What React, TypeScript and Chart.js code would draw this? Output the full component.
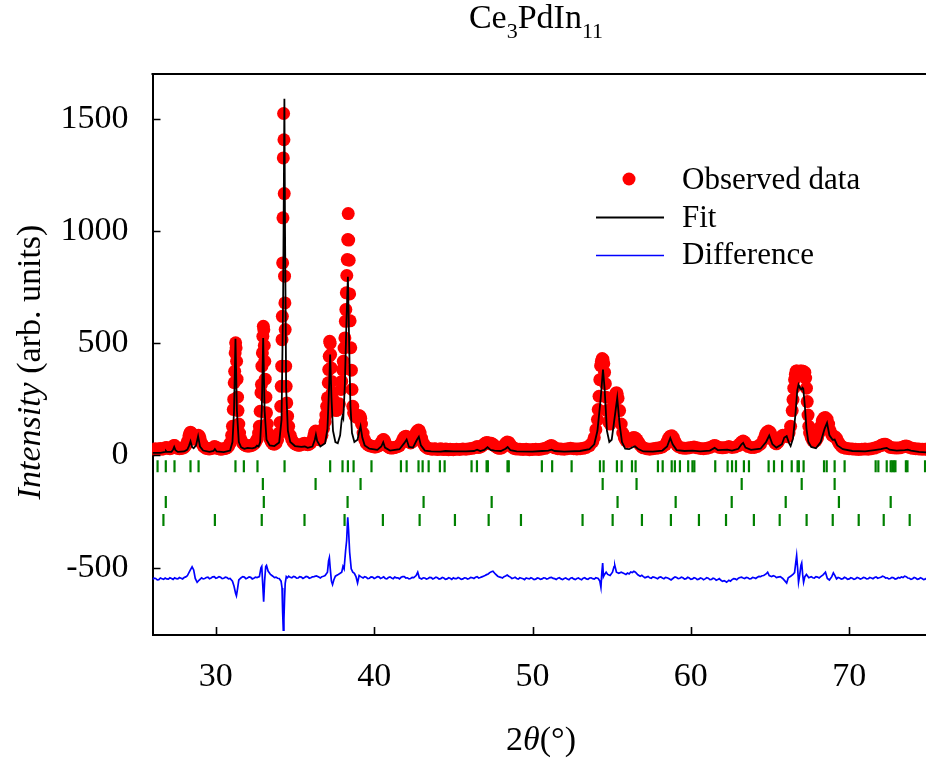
import React, { useEffect, useRef } from 'react';
import { Chart, registerables } from 'chart.js';

Chart.register(...registerables);

const SERIF = '"Liberation Serif", "Times New Roman", Times, serif';

const xTickValues = [30, 40, 50, 60, 70];
const yTickValues = [-500, 0, 500, 1000, 1500];

// Observed data: [2theta, intensity]
const observed: [number, number][] = [
  [26.0, 28], [26.1, 26], [26.2, 30], [26.3, 27], [26.4, 29], [26.5, 31], [26.6, 28], [26.7, 30], [26.8, 34], [26.9, 36],
  [27.0, 32], [27.1, 30], [27.2, 33], [27.3, 40], [27.35, 45], [27.4, 44], [27.5, 36], [27.6, 32], [27.7, 30], [27.8, 31],
  [27.9, 33], [28.0, 36], [28.1, 45], [28.2, 62], [28.3, 88], [28.35, 98], [28.4, 104], [28.45, 100], [28.5, 92], [28.6, 78],
  [28.7, 72], [28.8, 82], [28.85, 88], [28.9, 90], [28.95, 86], [29.0, 76], [29.1, 55], [29.2, 42], [29.3, 36], [29.4, 32],
  [29.5, 30], [29.6, 29], [29.7, 31], [29.8, 33], [29.9, 40], [30.0, 38], [30.1, 32], [30.2, 30], [30.3, 28], [30.4, 29],
  [30.5, 30], [30.6, 31], [30.7, 34], [30.8, 40], [30.9, 55], [31.0, 90], [31.05, 130], [31.1, 205], [31.13, 250], [31.16, 324],
  [31.19, 375], [31.22, 457], [31.25, 502], [31.28, 480], [31.31, 420], [31.34, 340], [31.37, 260], [31.4, 200], [31.45, 140], [31.5, 100],
  [31.6, 70], [31.7, 55], [31.8, 48], [31.9, 44], [32.0, 42], [32.1, 42], [32.2, 44], [32.3, 46], [32.4, 50], [32.5, 58],
  [32.6, 72], [32.7, 100], [32.75, 130], [32.8, 197], [32.85, 280], [32.88, 316], [32.91, 398], [32.94, 457], [32.97, 531], [33.0, 576],
  [33.03, 560], [33.06, 490], [33.09, 420], [33.12, 340], [33.16, 260], [33.2, 190], [33.25, 140], [33.3, 100], [33.4, 75], [33.5, 60],
  [33.6, 52], [33.7, 50], [33.8, 55], [33.9, 70], [34.0, 100], [34.05, 147], [34.1, 219], [34.13, 308], [34.16, 398], [34.18, 516],
  [34.2, 620], [34.22, 858], [34.24, 1059], [34.26, 1326], [34.28, 1524], [34.3, 1407], [34.32, 1167], [34.34, 799], [34.36, 680], [34.38, 561],
  [34.41, 398], [34.44, 308], [34.48, 234], [34.53, 175], [34.6, 130], [34.7, 90], [34.8, 70], [34.9, 58], [35.0, 52], [35.1, 48],
  [35.2, 46], [35.3, 46], [35.4, 48], [35.5, 52], [35.6, 54], [35.7, 50], [35.8, 48], [35.9, 50], [36.0, 56], [36.1, 68],
  [36.2, 90], [36.25, 104], [36.3, 109], [36.35, 100], [36.4, 84], [36.5, 70], [36.6, 72], [36.7, 90], [36.8, 120], [36.9, 150],
  [36.95, 180], [37.0, 219], [37.05, 257], [37.1, 324], [37.13, 383], [37.16, 442], [37.19, 509], [37.22, 500], [37.25, 450], [37.28, 390],
  [37.31, 330], [37.35, 280], [37.4, 250], [37.5, 220], [37.6, 200], [37.7, 205], [37.8, 230], [37.9, 294], [37.95, 330], [38.0, 383],
  [38.05, 420], [38.1, 479], [38.15, 524], [38.18, 598], [38.21, 650], [38.24, 725], [38.27, 802], [38.3, 873], [38.33, 962], [38.36, 1078],
  [38.39, 960], [38.42, 870], [38.45, 720], [38.48, 600], [38.52, 480], [38.56, 380], [38.6, 294], [38.65, 219], [38.7, 190], [38.8, 175],
  [38.9, 170], [38.95, 172], [39.0, 175], [39.05, 178], [39.1, 175], [39.15, 165], [39.2, 140], [39.3, 100], [39.4, 70], [39.5, 55],
  [39.6, 48], [39.7, 44], [39.8, 42], [39.9, 40], [40.0, 38], [40.1, 38], [40.2, 40], [40.3, 44], [40.4, 52], [40.5, 64],
  [40.55, 70], [40.6, 71], [40.65, 66], [40.7, 56], [40.8, 44], [40.9, 38], [41.0, 34], [41.1, 33], [41.2, 34], [41.3, 36],
  [41.4, 38], [41.5, 40], [41.6, 44], [41.7, 55], [41.8, 70], [41.9, 82], [42.0, 86], [42.05, 84], [42.1, 76], [42.2, 62],
  [42.3, 56], [42.4, 60], [42.5, 75], [42.6, 95], [42.7, 108], [42.8, 113], [42.85, 110], [42.9, 100], [43.0, 76], [43.1, 55],
  [43.2, 42], [43.3, 36], [43.4, 32], [43.5, 30], [43.6, 29], [43.7, 28], [43.8, 30], [43.9, 29], [44.0, 27], [44.1, 28],
  [44.2, 30], [44.3, 28], [44.4, 27], [44.5, 29], [44.6, 28], [44.7, 26], [44.8, 28], [44.9, 27], [45.0, 26], [45.2, 28],
  [45.4, 27], [45.6, 29], [45.8, 28], [46.0, 30], [46.2, 32], [46.4, 36], [46.5, 40], [46.6, 36], [46.7, 38], [46.8, 42],
  [46.9, 48], [47.0, 54], [47.1, 58], [47.2, 57], [47.3, 52], [47.4, 54], [47.5, 50], [47.6, 44], [47.7, 38], [47.8, 34],
  [47.9, 32], [48.0, 33], [48.1, 36], [48.2, 44], [48.3, 54], [48.4, 60], [48.5, 58], [48.6, 48], [48.7, 38], [48.8, 33],
  [48.9, 30], [49.0, 29], [49.2, 28], [49.4, 27], [49.6, 28], [49.8, 26], [50.0, 27], [50.2, 28], [50.4, 27], [50.6, 29],
  [50.8, 32], [51.0, 38], [51.1, 42], [51.2, 44], [51.3, 40], [51.4, 34], [51.6, 30], [51.8, 29], [52.0, 28], [52.2, 30],
  [52.4, 32], [52.6, 30], [52.8, 29], [53.0, 30], [53.2, 32], [53.4, 36], [53.6, 44], [53.8, 60], [53.9, 80], [54.0, 115],
  [54.1, 160], [54.15, 205], [54.2, 264], [54.25, 338], [54.3, 400], [54.35, 420], [54.4, 432], [54.45, 428], [54.5, 410], [54.55, 370],
  [54.6, 320], [54.65, 260], [54.7, 200], [54.8, 150], [54.9, 140], [55.0, 170], [55.1, 220], [55.2, 262], [55.25, 276], [55.3, 280],
  [55.35, 275], [55.4, 255], [55.5, 200], [55.6, 140], [55.7, 100], [55.8, 78], [55.9, 66], [56.0, 62], [56.1, 66], [56.2, 72],
  [56.3, 78], [56.4, 80], [56.5, 78], [56.6, 70], [56.7, 58], [56.8, 46], [56.9, 38], [57.0, 34], [57.2, 30], [57.4, 28],
  [57.6, 30], [57.8, 32], [58.0, 34], [58.2, 38], [58.4, 48], [58.5, 62], [58.6, 78], [58.7, 86], [58.8, 88], [58.9, 80],
  [59.0, 62], [59.1, 48], [59.2, 40], [59.4, 34], [59.6, 32], [59.8, 33], [60.0, 36], [60.2, 38], [60.4, 34], [60.6, 31],
  [60.8, 30], [61.0, 32], [61.2, 36], [61.4, 42], [61.5, 44], [61.6, 42], [61.8, 36], [62.0, 34], [62.2, 36], [62.4, 40],
  [62.6, 36], [62.8, 38], [63.0, 44], [63.1, 52], [63.2, 60], [63.3, 64], [63.4, 60], [63.5, 48], [63.6, 40], [63.8, 36],
  [64.0, 36], [64.2, 40], [64.4, 50], [64.6, 72], [64.7, 92], [64.8, 104], [64.9, 109], [65.0, 104], [65.1, 88], [65.2, 68],
  [65.3, 56], [65.4, 52], [65.5, 58], [65.6, 70], [65.7, 84], [65.8, 90], [65.9, 88], [66.0, 90], [66.1, 84], [66.2, 100],
  [66.3, 130], [66.4, 200], [66.45, 249], [66.5, 300], [66.55, 338], [66.6, 362], [66.65, 376], [66.7, 376], [66.8, 374], [66.9, 376],
  [67.0, 376], [67.1, 375], [67.2, 370], [67.25, 345], [67.3, 300], [67.35, 240], [67.4, 180], [67.45, 130], [67.5, 100], [67.6, 80],
  [67.7, 66], [67.8, 62], [67.9, 66], [68.0, 78], [68.1, 100], [68.2, 130], [68.3, 155], [68.4, 167], [68.5, 169], [68.6, 162],
  [68.7, 140], [68.8, 110], [68.9, 92], [69.0, 86], [69.1, 84], [69.2, 76], [69.3, 62], [69.4, 50], [69.5, 42], [69.6, 36],
  [69.8, 32], [70.0, 30], [70.2, 29], [70.4, 28], [70.6, 27], [70.8, 28], [71.0, 29], [71.2, 28], [71.4, 30], [71.6, 33],
  [71.8, 38], [72.0, 44], [72.1, 48], [72.2, 50], [72.3, 50], [72.4, 46], [72.5, 40], [72.6, 36], [72.8, 34], [73.0, 33],
  [73.2, 34], [73.4, 38], [73.5, 41], [73.6, 42], [73.7, 40], [73.8, 36], [74.0, 32], [74.2, 30], [74.4, 29], [74.6, 28],
  [74.8, 28], [75.0, 27],
];

// Calculated (fit) profile
const fitted: [number, number][] = [
  [26.0, 12], [26.5, 12], [26.8, 16], [26.85, 20], [26.9, 16], [27.2, 16], [27.3, 26], [27.37, 38], [27.45, 24], [27.6, 16],
  [28.0, 18], [28.2, 26], [28.3, 42], [28.4, 63], [28.5, 38], [28.6, 32], [28.75, 45], [28.88, 86], [29.0, 40], [29.2, 22],
  [29.6, 16], [29.85, 20], [29.94, 29], [30.05, 18], [30.5, 15], [30.9, 22], [31.05, 60], [31.15, 200], [31.24, 520], [31.33, 200],
  [31.45, 60], [31.6, 36], [31.8, 30], [32.0, 34], [32.3, 32], [32.5, 36], [32.6, 44], [32.7, 40], [32.8, 60], [32.9, 200],
  [32.99, 524], [33.08, 200], [33.2, 70], [33.4, 45], [33.7, 42], [34.0, 58], [34.15, 160], [34.25, 700], [34.33, 1590], [34.37, 1000],
  [34.44, 300], [34.55, 110], [34.7, 60], [35.0, 42], [35.4, 38], [35.62, 40], [35.8, 34], [36.1, 40], [36.25, 70], [36.32, 93],
  [36.4, 65], [36.6, 40], [36.9, 55], [37.05, 120], [37.15, 300], [37.22, 450], [37.3, 260], [37.4, 110], [37.55, 60], [37.7, 55],
  [37.85, 90], [37.95, 160], [38.0, 175], [38.05, 165], [38.15, 320], [38.25, 600], [38.34, 796], [38.42, 500], [38.5, 220], [38.6, 100],
  [38.75, 60], [38.95, 70], [39.05, 105], [39.14, 130], [39.25, 80], [39.4, 45], [39.7, 30], [40.2, 25], [40.45, 40], [40.57, 59],
  [40.68, 35], [41.0, 22], [41.6, 28], [41.9, 55], [42.05, 71], [42.2, 38], [42.45, 35], [42.7, 70], [42.82, 83], [42.95, 45],
  [43.2, 22], [43.6, 18], [44.2, 17], [44.5, 20], [45.0, 18], [45.8, 18], [46.3, 20], [46.5, 26], [46.7, 20], [46.95, 25],
  [47.16, 37], [47.35, 25], [47.6, 22], [48.0, 20], [48.3, 30], [48.43, 38], [48.6, 24], [49.0, 18], [50.0, 17], [50.6, 20],
  [51.0, 22], [51.2, 26], [51.4, 20], [52.0, 17], [53.0, 20], [53.6, 28], [53.9, 50], [54.1, 110], [54.3, 250], [54.45, 383],
  [54.55, 300], [54.7, 110], [54.85, 60], [55.0, 70], [55.15, 150], [55.35, 257], [55.5, 140], [55.65, 60], [55.85, 30], [56.1, 28],
  [56.3, 36], [56.47, 41], [56.65, 30], [57.0, 18], [57.6, 17], [58.2, 22], [58.5, 40], [58.7, 78], [58.85, 50], [59.1, 24],
  [59.6, 20], [60.1, 22], [60.6, 18], [61.2, 22], [61.5, 34], [61.7, 24], [62.3, 26], [62.6, 22], [63.0, 30], [63.2, 50],
  [63.3, 56], [63.45, 35], [63.8, 25], [64.4, 30], [64.75, 60], [64.95, 89], [65.15, 50], [65.4, 35], [65.75, 50], [65.9, 80],
  [66.05, 86], [66.2, 55], [66.3, 42], [66.45, 75], [66.6, 180], [66.72, 290], [66.8, 316], [66.9, 300], [66.97, 295], [67.05, 302],
  [67.1, 297], [67.2, 220], [67.3, 120], [67.42, 60], [67.6, 38], [67.9, 32], [68.2, 60], [68.45, 120], [68.6, 145], [68.75, 90],
  [68.95, 70], [69.08, 71], [69.25, 45], [69.6, 28], [70.2, 20], [71.0, 18], [71.6, 24], [72.0, 28], [72.2, 32], [72.37, 34],
  [72.55, 26], [73.0, 22], [73.5, 24], [73.7, 26], [73.9, 22], [74.4, 16], [75.0, 13],
];

// Difference curve (offset, as plotted)
const difference: [number, number][] = [
  [26.0, -552], [26.1, -547], [26.2, -548], [26.3, -554], [26.4, -553], [26.5, -546], [26.6, -549], [26.7, -552], [26.8, -546], [26.9, -550],
  [27.0, -551], [27.1, -545], [27.2, -548], [27.3, -552], [27.4, -545], [27.5, -549], [27.6, -550], [27.7, -544], [27.8, -547], [27.9, -550],
  [28.0, -544], [28.1, -541], [28.2, -536], [28.35, -515], [28.5, -496], [28.6, -510], [28.7, -548], [28.82, -565], [28.95, -555], [29.1, -545],
  [29.2, -550], [29.3, -548], [29.4, -544], [29.5, -542], [29.6, -549], [29.7, -546], [29.8, -541], [29.9, -540], [30.0, -547], [30.1, -545],
  [30.2, -540], [30.3, -543], [30.4, -549], [30.5, -547], [30.6, -542], [30.7, -544], [30.8, -550], [30.9, -548], [31.05, -560], [31.15, -583],
  [31.25, -615], [31.3, -625], [31.38, -590], [31.45, -555], [31.55, -548], [31.6, -545], [31.7, -540], [31.8, -542], [31.9, -549], [32.0, -546],
  [32.1, -541], [32.2, -543], [32.3, -550], [32.4, -547], [32.5, -542], [32.6, -544], [32.75, -540], [32.85, -500], [32.9, -494], [32.95, -560],
  [33.02, -652], [33.08, -560], [33.15, -495], [33.2, -490], [33.3, -515], [33.45, -530], [33.6, -538], [33.7, -544], [33.8, -542], [33.9, -547],
  [34.0, -548], [34.12, -560], [34.18, -590], [34.22, -700], [34.26, -778], [34.3, -730], [34.34, -640], [34.38, -570], [34.45, -540], [34.52, -545],
  [34.6, -538], [34.7, -543], [34.8, -545], [34.9, -539], [35.0, -541], [35.1, -547], [35.2, -546], [35.3, -540], [35.4, -542], [35.5, -548],
  [35.6, -544], [35.7, -539], [35.8, -541], [35.9, -547], [36.0, -545], [36.1, -541], [36.2, -540], [36.35, -537], [36.5, -542], [36.6, -546],
  [36.7, -540], [36.8, -538], [36.9, -535], [37.05, -520], [37.12, -470], [37.17, -456], [37.22, -500], [37.3, -560], [37.37, -575], [37.45, -555],
  [37.55, -538], [37.7, -532], [37.85, -525], [37.95, -520], [38.03, -494], [38.1, -505], [38.2, -420], [38.26, -380], [38.33, -275], [38.38, -330],
  [38.45, -430], [38.55, -505], [38.65, -520], [38.75, -525], [38.85, -540], [38.95, -568], [39.05, -535], [39.15, -540], [39.3, -546], [39.4, -540],
  [39.5, -543], [39.6, -549], [39.7, -547], [39.8, -541], [39.9, -542], [40.0, -548], [40.1, -545], [40.2, -540], [40.3, -541], [40.4, -548],
  [40.5, -545], [40.6, -541], [40.7, -548], [40.8, -550], [40.9, -544], [41.0, -541], [41.1, -546], [41.2, -549], [41.3, -542], [41.4, -545],
  [41.5, -545], [41.6, -550], [41.7, -543], [41.8, -540], [41.9, -540], [42.0, -546], [42.1, -545], [42.2, -550], [42.3, -548], [42.4, -543],
  [42.5, -544], [42.65, -535], [42.75, -520], [42.85, -545], [43.0, -550], [43.1, -545], [43.2, -546], [43.3, -551], [43.4, -548], [43.5, -543],
  [43.6, -544], [43.7, -550], [43.8, -547], [43.9, -542], [44.0, -545], [44.1, -551], [44.2, -549], [44.3, -544], [44.4, -546], [44.5, -552],
  [44.6, -550], [44.7, -545], [44.8, -547], [44.9, -552], [45.0, -545], [45.1, -549], [45.2, -549], [45.3, -544], [45.4, -547], [45.5, -552],
  [45.6, -550], [45.7, -545], [45.8, -546], [45.9, -551], [46.0, -548], [46.1, -543], [46.2, -545], [46.3, -548], [46.4, -543], [46.5, -540],
  [46.6, -546], [46.7, -544], [46.8, -541], [46.9, -538], [47.0, -535], [47.1, -531], [47.2, -528], [47.3, -522], [47.4, -518], [47.5, -516],
  [47.65, -528], [47.8, -538], [47.9, -541], [48.0, -543], [48.1, -546], [48.2, -540], [48.3, -537], [48.4, -533], [48.5, -538], [48.6, -542],
  [48.7, -548], [48.8, -546], [48.9, -543], [49.0, -548], [49.1, -551], [49.2, -545], [49.3, -547], [49.4, -549], [49.5, -553], [49.6, -546],
  [49.7, -548], [49.8, -550], [49.9, -545], [50.0, -548], [50.1, -553], [50.2, -551], [50.3, -546], [50.4, -547], [50.5, -552], [50.6, -550],
  [50.7, -545], [50.8, -546], [50.9, -551], [51.0, -548], [51.1, -544], [51.2, -543], [51.3, -548], [51.4, -549], [51.5, -553], [51.6, -547],
  [51.7, -545], [51.8, -550], [51.9, -553], [52.0, -548], [52.1, -546], [52.2, -551], [52.3, -554], [52.4, -547], [52.5, -545], [52.6, -550],
  [52.7, -553], [52.8, -548], [52.9, -546], [53.0, -551], [53.1, -554], [53.2, -547], [53.3, -545], [53.4, -550], [53.5, -552], [53.6, -546],
  [53.7, -545], [53.8, -549], [53.9, -551], [54.0, -545], [54.15, -548], [54.25, -560], [54.32, -588], [54.38, -520], [54.43, -479], [54.48, -540],
  [54.55, -530], [54.65, -520], [54.75, -530], [54.9, -535], [55.05, -520], [55.15, -495], [55.2, -491], [55.3, -520], [55.45, -525], [55.6, -520],
  [55.75, -525], [55.9, -530], [56.0, -524], [56.1, -528], [56.2, -519], [56.3, -522], [56.4, -516], [56.5, -520], [56.65, -532], [56.8, -538],
  [56.9, -534], [57.0, -540], [57.1, -545], [57.2, -542], [57.3, -539], [57.4, -545], [57.5, -547], [57.6, -541], [57.7, -543], [57.8, -546],
  [57.9, -549], [58.0, -543], [58.1, -541], [58.2, -546], [58.3, -549], [58.4, -543], [58.5, -545], [58.6, -548], [58.75, -555], [58.9, -546],
  [59.0, -541], [59.1, -544], [59.2, -549], [59.3, -547], [59.4, -542], [59.5, -545], [59.6, -551], [59.7, -549], [59.8, -543], [59.9, -546],
  [60.0, -552], [60.1, -550], [60.2, -545], [60.3, -547], [60.4, -553], [60.5, -551], [60.6, -546], [60.7, -548], [60.8, -554], [60.9, -550],
  [61.0, -545], [61.1, -547], [61.2, -553], [61.3, -552], [61.4, -547], [61.5, -549], [61.6, -556], [61.7, -553], [61.8, -549], [61.9, -556],
  [62.0, -561], [62.1, -558], [62.2, -562], [62.26, -565], [62.4, -556], [62.5, -560], [62.6, -553], [62.7, -549], [62.8, -550], [62.9, -554],
  [63.0, -547], [63.1, -544], [63.2, -542], [63.3, -546], [63.4, -548], [63.5, -543], [63.6, -545], [63.7, -550], [63.8, -549], [63.9, -543],
  [64.0, -545], [64.1, -548], [64.2, -543], [64.3, -539], [64.4, -540], [64.5, -536], [64.6, -535], [64.75, -528], [64.85, -520], [64.95, -535],
  [65.1, -540], [65.2, -536], [65.3, -538], [65.4, -544], [65.5, -542], [65.65, -540], [65.8, -548], [65.95, -560], [66.05, -568], [66.15, -545],
  [66.3, -538], [66.45, -530], [66.55, -522], [66.62, -480], [66.68, -446], [66.74, -500], [66.8, -565], [66.88, -530], [66.95, -490], [67.0, -479],
  [67.06, -530], [67.12, -565], [67.2, -540], [67.3, -530], [67.45, -545], [67.6, -540], [67.7, -545], [67.8, -546], [67.9, -540], [68.0, -542],
  [68.1, -546], [68.2, -540], [68.35, -532], [68.5, -520], [68.62, -548], [68.75, -555], [68.9, -540], [69.0, -523], [69.1, -535], [69.2, -550],
  [69.3, -544], [69.4, -546], [69.5, -551], [69.6, -549], [69.7, -543], [69.8, -546], [69.9, -552], [70.0, -550], [70.1, -545], [70.2, -547],
  [70.3, -552], [70.4, -549], [70.5, -544], [70.6, -546], [70.7, -551], [70.8, -548], [70.9, -543], [71.0, -545], [71.1, -550], [71.2, -549],
  [71.3, -544], [71.4, -546], [71.5, -549], [71.6, -544], [71.7, -541], [71.8, -547], [71.9, -545], [72.0, -543], [72.1, -538], [72.2, -540],
  [72.3, -546], [72.4, -545], [72.5, -550], [72.6, -548], [72.7, -543], [72.8, -545], [72.9, -551], [73.0, -549], [73.1, -544], [73.2, -546],
  [73.3, -541], [73.4, -544], [73.5, -538], [73.6, -540], [73.7, -546], [73.8, -547], [73.9, -552], [74.0, -549], [74.1, -544], [74.2, -546],
  [74.3, -552], [74.4, -550], [74.5, -545], [74.6, -548], [74.7, -553], [74.8, -551], [74.9, -546], [75.0, -549],
];

// Bragg reflection positions (2theta), one list per phase row
const braggPhase1 = [
  26.32, 26.84, 27.39, 28.40, 28.91, 31.24, 31.77, 32.63, 34.34, 37.22, 38.00, 38.34, 38.70, 39.83, 41.69, 42.05, 42.80,
  43.06, 43.44, 44.15, 44.45, 46.15, 46.49, 47.10, 47.18, 48.42, 48.50, 50.59, 51.24, 52.47, 54.26, 54.49, 55.33, 55.63,
  56.28, 56.51, 57.92, 58.22, 58.79, 58.99, 59.31, 59.83, 60.10, 60.22, 61.54, 62.32, 62.60, 62.85, 63.35, 63.67, 64.91,
  65.25, 65.76, 66.37, 66.74, 66.82, 67.12, 68.41, 68.58, 69.08, 69.71, 71.67, 71.84, 72.37, 72.62, 72.72, 72.82, 72.92,
  73.58, 73.68, 74.79,
];
const braggPhase2 = [32.97, 36.30, 39.14, 54.43, 56.57, 63.21, 67.00, 69.08];
const braggPhase3 = [26.84, 33.03, 38.32, 43.12, 47.42, 55.37, 59.04, 62.58, 65.99, 69.35, 72.62];
const braggPhase4 = [
  26.69, 29.94, 32.90, 35.60, 38.13, 40.55, 42.87, 45.10, 47.23, 49.27, 53.16, 55.06, 56.91, 58.74, 60.51, 62.22, 63.98,
  65.61, 67.31, 68.96, 70.60, 72.18, 73.82,
];
const braggRowLevels = [-48, -127, -207, -287];

const legendLabels = ['Observed data', 'Fit', 'Difference'];

type Run = { text: string; font: string; dy?: number };

function drawRuns(ctx: CanvasRenderingContext2D, runs: Run[], cx: number, baseline: number) {
  let total = 0;
  for (const r of runs) {
    ctx.font = r.font;
    total += ctx.measureText(r.text).width;
  }
  let x = cx - total / 2;
  ctx.textAlign = 'left';
  ctx.textBaseline = 'alphabetic';
  for (const r of runs) {
    ctx.font = r.font;
    ctx.fillText(r.text, x, baseline + (r.dy || 0));
    x += ctx.measureText(r.text).width;
  }
}

const decorations = {
  id: 'decorations',
  afterDatasetsDraw(chart: any) {
    const { ctx, chartArea: a, scales } = chart;
    ctx.save();
    ctx.fillStyle = '#000';
    ctx.strokeStyle = '#000';
    // top frame line
    ctx.lineWidth = 2;
    ctx.beginPath();
    ctx.moveTo(a.left - 1, a.top);
    ctx.lineTo(a.right, a.top);
    ctx.stroke();
    // inward ticks
    ctx.lineWidth = 1.6;
    ctx.beginPath();
    for (const v of xTickValues) {
      const px = Math.round(scales.x.getPixelForValue(v)) + 0.5;
      ctx.moveTo(px, a.bottom);
      ctx.lineTo(px, a.bottom - 8);
    }
    for (const v of yTickValues) {
      const py = Math.round(scales.y.getPixelForValue(v)) + 0.5;
      ctx.moveTo(a.left, py);
      ctx.lineTo(a.left + 8, py);
    }
    ctx.stroke();

    // title with subscripts
    const big = `34px ${SERIF}`;
    const sub = `22px ${SERIF}`;
    drawRuns(ctx, [
      { text: 'Ce', font: big },
      { text: '3', font: sub, dy: 10 },
      { text: 'PdIn', font: big },
      { text: '11', font: sub, dy: 10 },
    ], 536, 28);

    // x axis title
    drawRuns(ctx, [
      { text: '2', font: `34px ${SERIF}` },
      { text: 'θ', font: `italic 34px ${SERIF}` },
      { text: '(°)', font: `34px ${SERIF}` },
    ], 541, 750);

    // y axis title
    ctx.save();
    ctx.translate(40, 362);
    ctx.rotate(-Math.PI / 2);
    drawRuns(ctx, [
      { text: 'Intensity', font: `italic 34px ${SERIF}` },
      { text: ' (arb. units)', font: `34px ${SERIF}` },
    ], 0, 0);
    ctx.restore();

    // legend
    const lf = `31px ${SERIF}`;
    ctx.fillStyle = '#ff0000';
    ctx.beginPath();
    ctx.arc(629, 179, 6.5, 0, Math.PI * 2);
    ctx.fill();
    ctx.lineWidth = 1.8;
    ctx.strokeStyle = '#000';
    ctx.beginPath();
    ctx.moveTo(596, 217.5);
    ctx.lineTo(664, 217.5);
    ctx.stroke();
    ctx.strokeStyle = '#0000ff';
    ctx.lineWidth = 1.5;
    ctx.beginPath();
    ctx.moveTo(596, 255.5);
    ctx.lineTo(664, 255.5);
    ctx.stroke();
    ctx.fillStyle = '#000';
    ctx.font = lf;
    ctx.textAlign = 'left';
    ctx.textBaseline = 'alphabetic';
    ctx.fillText(legendLabels[0], 682, 189);
    ctx.fillText(legendLabels[1], 682, 227);
    ctx.fillText(legendLabels[2], 682, 264);
    ctx.restore();
  },
};

export default function App() {
  const canvasRef = useRef<HTMLCanvasElement | null>(null);

  useEffect(() => {
    const canvas = canvasRef.current;
    if (!canvas) return;
    const toXY = (arr: [number, number][]) => arr.map(([x, y]) => ({ x, y }));
    const braggRows = [braggPhase1, braggPhase2, braggPhase3, braggPhase4];
    const braggDatasets = braggRows.map((row, i) => ({
      label: `Bragg ${i + 1}`,
      data: row.map((x) => ({ x, y: braggRowLevels[i] })),
      showLine: false,
      pointStyle: 'line' as const,
      rotation: 90,
      pointRadius: 6,
      pointBorderColor: '#008000',
      pointBackgroundColor: '#008000',
      pointBorderWidth: 2.2,
      order: 4,
    }));

    const chart = new Chart(canvas, {
      type: 'scatter',
      data: {
        datasets: [
          {
            label: legendLabels[1],
            data: toXY(fitted),
            showLine: true,
            borderColor: '#000000',
            borderWidth: 1.8,
            pointRadius: 0,
            tension: 0,
            order: 1,
          },
          {
            label: legendLabels[0],
            data: toXY(observed),
            showLine: false,
            pointRadius: 6.5,
            pointBackgroundColor: '#ff0000',
            pointBorderWidth: 0,
            pointBorderColor: '#ff0000',
            order: 2,
          },
          {
            label: legendLabels[2],
            data: toXY(difference),
            showLine: true,
            borderColor: '#0000ff',
            borderWidth: 1.7,
            pointRadius: 0,
            order: 3,
          },
          ...braggDatasets,
        ] as any,
      },
      options: {
        responsive: false,
        animation: false,
        devicePixelRatio: 1,
        layout: { autoPadding: false, padding: { top: 74, right: 0, left: 0, bottom: 0 } },
        plugins: {
          legend: { display: false },
          tooltip: { enabled: false },
          title: { display: false },
        },
        events: [],
        scales: {
          x: {
            type: 'linear',
            min: 26,
            max: 74.85,
            grid: { display: false },
            border: { display: true, color: '#000', width: 2 },
            afterBuildTicks: (s: any) => {
              s.ticks = xTickValues.map((v) => ({ value: v }));
            },
            afterFit: (s: any) => {
              s.height = 125;
            },
            ticks: {
              color: '#000',
              padding: 14,
              font: { family: SERIF, size: 34 },
              callback: (v: any) => String(v),
              maxRotation: 0,
              autoSkip: false,
            },
          },
          y: {
            type: 'linear',
            min: -800,
            max: 1700,
            grid: { display: false },
            border: { display: true, color: '#000', width: 2 },
            afterBuildTicks: (s: any) => {
              s.ticks = yTickValues.map((v) => ({ value: v }));
            },
            afterFit: (s: any) => {
              s.width = 152.5;
            },
            ticks: {
              color: '#000',
              padding: 16,
              font: { family: SERIF, size: 34 },
              callback: (v: any) => String(v),
              autoSkip: false,
            },
          },
        },
      },
      plugins: [decorations],
    });
    return () => chart.destroy();
  }, []);

  return (
    <div style={{ position: 'absolute', left: 0, top: 0, width: 926, height: 760, background: '#fff' }}>
      <canvas ref={canvasRef} width={926} height={760} style={{ display: 'block', width: 926, height: 760 }} />
    </div>
  );
}
